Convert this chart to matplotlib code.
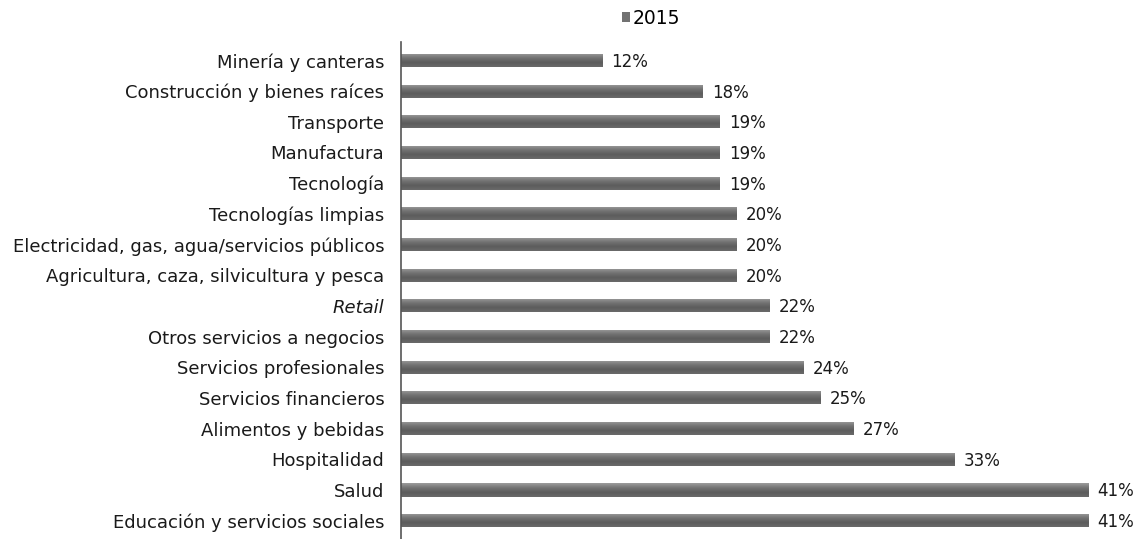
#!/usr/bin/env python3
# -*- coding: utf-8 -*-
import matplotlib
matplotlib.use("Agg")
import matplotlib.pyplot as plt
from matplotlib.patches import Patch
from matplotlib.colors import LinearSegmentedColormap
import numpy as np

# data, top to bottom as in the picture
sectores = [
    "Minería y canteras",
    "Construcción y bienes raíces",
    "Transporte",
    "Manufactura",
    "Tecnología",
    "Tecnologías limpias",
    "Electricidad, gas, agua/servicios públicos",
    "Agricultura, caza, silvicultura y pesca",
    "Retail",
    "Otros servicios a negocios",
    "Servicios profesionales",
    "Servicios financieros",
    "Alimentos y bebidas",
    "Hospitalidad",
    "Salud",
    "Educación y servicios sociales",
]
valores_2015 = [12, 18, 19, 19, 19, 20, 20, 20, 22, 22, 24, 25, 27, 33, 41, 41]
serie = "2015"

plt.rcParams['font.family'] = ['DejaVu Sans']

fig = plt.figure(figsize=(11.34, 5.39), dpi=100)
ax = fig.add_axes([0.3536, 0.0, 0.643, 0.922])

pos = list(range(len(sectores)))
bars = ax.barh(pos, valores_2015, height=0.43, color="#6f6f6f",
               edgecolor="none", linewidth=0)

# shaded look of the bars (light on top, darker below)
shade = LinearSegmentedColormap.from_list("shade", ["#9c9c9c", "#747474", "#5c5c5c", "#6a6a6a"])
grad = np.linspace(0, 1, 64).reshape(-1, 1)
for b in bars:
    x0, y0, w, h = b.get_x(), b.get_y(), b.get_width(), b.get_height()
    im = ax.imshow(grad, cmap=shade, aspect="auto", extent=(x0, x0 + w, y0 + h, y0),
                   zorder=2, interpolation="bilinear")
    im.set_clip_path(b)

for b, v in zip(bars, valores_2015):
    ax.text(b.get_width() + 0.55, b.get_y() + b.get_height() / 2 + 0.05, "{}%".format(v),
            va="center", ha="left", fontsize=12, color="#1a1a1a")

ax.set_yticks(pos)
ax.set_yticklabels(sectores, fontsize=13, color="#1a1a1a")
for lbl in ax.get_yticklabels():
    if lbl.get_text() == "Retail":
        lbl.set_style("italic")
ax.tick_params(axis="y", length=0, pad=12)
ax.set_ylim(len(sectores) - 0.4, -0.6)
ax.set_xlim(0, 43.5)
ax.set_xticks([])

for s in ["top", "right", "bottom"]:
    ax.spines[s].set_visible(False)
ax.spines["left"].set_color("#555555")
ax.spines["left"].set_linewidth(1.2)
ax.spines["left"].set_zorder(3)

fig.legend(handles=[Patch(facecolor="#727272", label=serie)],
           loc="upper center", bbox_to_anchor=(0.574, 1.015), frameon=False,
           fontsize=13.5, handlelength=0.45, handleheight=0.45, handletextpad=0.15)

fig.savefig("out.png", dpi=100)
